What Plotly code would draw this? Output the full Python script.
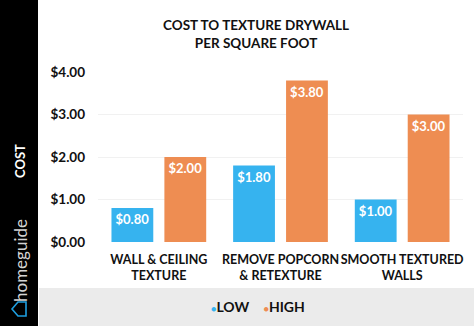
import plotly.graph_objects as go

categories = ["WALL & CEILING<br>TEXTURE", "REMOVE POPCORN<br>& RETEXTURE", "SMOOTH TEXTURED<br>WALLS"]
low_values = [0.80, 1.80, 1.00]
high_values = [2.00, 3.80, 3.00]
series_names = ["LOW", "HIGH"]
y_ticks = [0, 1, 2, 3, 4]
y_tick_labels = ["$0.00", "$1.00", "$2.00", "$3.00", "$4.00"]
title_text = "COST TO TEXTURE DRYWALL<br>PER SQUARE FOOT"

BLUE = "#36B3EF"
ORANGE = "#EE8D52"
FONT = "Lato"

W, H = 474, 326
ML, MR, MT, MB = 98, 11, 72, 84
PW, PH = W - ML - MR, H - MT - MB


def px_to_paper_x(px):
    return (px - ML) / PW


def px_to_paper_y(py):
    return (H - MB - py) / PH


fig = go.Figure()
for name, vals, col in [(series_names[0], low_values, BLUE), (series_names[1], high_values, ORANGE)]:
    fig.add_trace(go.Bar(
        name=name,
        x=categories,
        y=vals,
        marker=dict(color=col, line=dict(width=0)),
        text=[f"<b>${v:.2f}</b>" for v in vals],
        textposition="inside",
        insidetextanchor="end",
        textangle=0,
        textfont=dict(family=FONT, size=13, color="white"),
        showlegend=False,
        hoverinfo="skip",
    ))

shapes = [
    # black sidebar
    dict(type="rect", xref="paper", yref="paper",
         x0=px_to_paper_x(0), x1=px_to_paper_x(38),
         y0=px_to_paper_y(H), y1=px_to_paper_y(0),
         fillcolor="#000000", line=dict(width=0), layer="below"),
    # gray legend band
    dict(type="rect", xref="paper", yref="paper",
         x0=px_to_paper_x(39), x1=px_to_paper_x(W),
         y0=px_to_paper_y(H), y1=px_to_paper_y(288),
         fillcolor="#EBEBEB", line=dict(width=0), layer="below"),
    # house icon (outline, pointing left)
    dict(type="path", xref="paper", yref="paper",
         path=("M {a},{m} L {b},{t} L {c},{t} L {c},{bt} L {b},{bt} Z".format(
             a=px_to_paper_x(12), b=px_to_paper_x(18), c=px_to_paper_x(26),
             m=px_to_paper_y(309), t=px_to_paper_y(302), bt=px_to_paper_y(316))),
         fillcolor="rgba(0,0,0,0)", line=dict(color="#1E9FE0", width=1.6)),
]

annotations = [
    dict(text=f"<b>{title_text}</b>", xref="paper", yref="paper",
         x=px_to_paper_x(256), y=px_to_paper_y(34), xanchor="center", yanchor="middle",
         showarrow=False, font=dict(family=FONT, size=13.5, color="#111111"), align="center"),
    dict(text="<b>COST</b>", xref="paper", yref="paper",
         x=px_to_paper_x(20), y=px_to_paper_y(161), xanchor="center", yanchor="middle",
         textangle=-90, showarrow=False, font=dict(family=FONT, size=13, color="white")),
    dict(text="homeguide", xref="paper", yref="paper",
         x=px_to_paper_x(20), y=px_to_paper_y(261), xanchor="center", yanchor="middle",
         textangle=-90, showarrow=False, font=dict(family=FONT, size=17, color="#D4D4D4")),
    dict(text=(f"<span style='color:{BLUE};font-size:9px'>●</span><b>{series_names[0]}</b>"
               f"    <span style='color:{ORANGE};font-size:9px'>●</span><b>{series_names[1]}</b>"),
         xref="paper", yref="paper",
         x=px_to_paper_x(258), y=px_to_paper_y(306), xanchor="center", yanchor="middle",
         showarrow=False, font=dict(family=FONT, size=14, color="#111111")),
]

fig.update_layout(
    width=W, height=H,
    margin=dict(l=ML, r=MR, t=MT, b=MB, pad=0, autoexpand=False),
    paper_bgcolor="white", plot_bgcolor="white",
    barmode="group", bargap=0.13, bargroupgap=0.21,
    shapes=shapes, annotations=annotations,
    font=dict(family=FONT, color="#111111"),
)
fig.update_xaxes(
    tickfont=dict(family=FONT, size=12.5, color="#111111"),
    tickvals=categories,
    ticktext=[f"<b>{c}</b>" for c in categories],
    tickangle=0, automargin=False, ticklabelstandoff=8,
    showgrid=False, zeroline=False, showline=False, ticks="",
)
fig.update_yaxes(
    range=[0, 4], tickvals=y_ticks, ticktext=[f"<b>{t}</b>" for t in y_tick_labels],
    tickfont=dict(family=FONT, size=13.5, color="#111111"),
    showgrid=True, gridcolor="#F1F1F1", gridwidth=1, automargin=False,
    zeroline=False, showline=False, ticks="", ticklabelstandoff=12,
)

fig.write_html("out.html")
